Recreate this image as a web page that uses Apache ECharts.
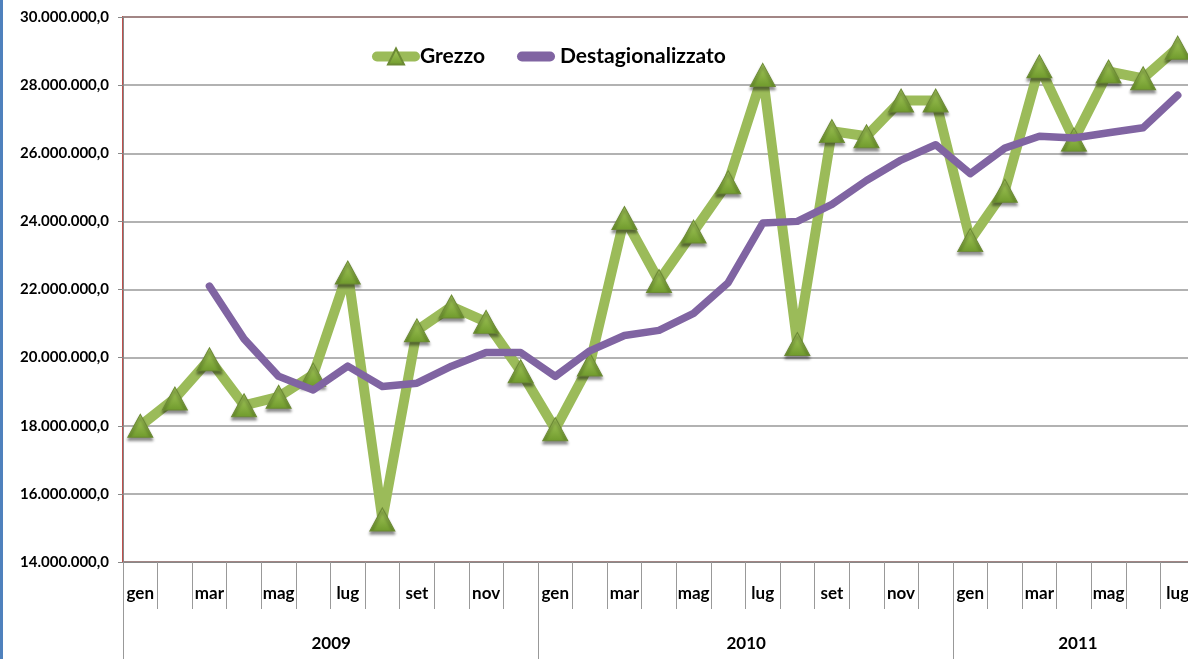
<!DOCTYPE html>
<html>
<head>
<meta charset="utf-8">
<script src="https://cdn.jsdelivr.net/npm/echarts@6/dist/echarts.min.js"></script>
<style>
  html, body { margin: 0; padding: 0; background: #fff; }
  #chart { width: 1188px; height: 659px; }
</style>
</head>
<body>
<div id="chart"></div>
<script>
// mesi gen 2009 - lug 2011
const months = [
  'gen','feb','mar','apr','mag','giu','lug','ago','set','ott','nov','dic',
  'gen','feb','mar','apr','mag','giu','lug','ago','set','ott','nov','dic',
  'gen','feb','mar','apr','mag','giu','lug'
]
const years = ['2009', '2010', '2011']
const yearStart = [0, 12, 24]
const yearLabelAt = [5, 17, 27]

const grezzo = [
  18.0, 18.8, 19.95, 18.6, 18.85, 19.5, 22.5, 15.25, 20.8, 21.5, 21.05, 19.6,
  17.9, 19.8, 24.1, 22.25, 23.7, 25.15, 28.3, 20.4, 26.65, 26.5, 27.55, 27.55,
  23.45, 24.9, 28.55, 26.4, 28.4, 28.2, 29.1
].map(v => v * 1e6)

const destag = [
  null, null, 22.1, 20.55, 19.45, 19.05, 19.75, 19.15, 19.25, 19.75, 20.15, 20.15,
  19.45, 20.2, 20.65, 20.8, 21.3, 22.2, 23.95, 24.0, 24.5, 25.2, 25.8, 26.25,
  25.4, 26.15, 26.5, 26.45, 26.6, 26.75, 27.7
].map(v => v == null ? null : v * 1e6)

const FONT = 'Lato, "Open Sans", sans-serif'

function fmtIt(v) {
  const s = Math.round(v).toString().replace(/\B(?=(\d{3})+(?!\d))/g, '.')
  return s + ',0'
}

const chart = echarts.init(document.getElementById('chart'))

// etichette anno: rich text per spostarle sul confine tra i mesi
const yearLabels = months.map((m, i) => {
  const k = yearLabelAt.indexOf(i)
  return k >= 0 ? years[k] : ''
})

const capsule = 'path://M5,0 L33,0 A5,5 0 0 1 33,10 L5,10 A5,5 0 0 1 5,0 Z'

chart.setOption({
  animation: false,
  textStyle: { fontFamily: FONT },
  graphic: [{
    type: 'rect', left: 0, top: 0, shape: { width: 3, height: 659 },
    style: { fill: '#4f81bd' }, silent: true
  }],
  grid: {
    left: 123, width: 1072, top: 17, bottom: 97,
    outerBoundsMode: 'none',
    show: true, borderColor: '#c0504d', borderWidth: 2, backgroundColor: '#fff'
  },
  legend: {
    left: 372, top: 46, padding: 0,
    itemWidth: 38, itemHeight: 20, itemGap: 32,
    lineStyle: { width: 10, cap: 'round' },
    textStyle: { fontFamily: FONT, fontWeight: 'bold', fontSize: 21, color: '#000' },
    data: [
      { name: 'Grezzo' },
      { name: 'Destagionalizzato', icon: capsule }
    ]
  },
  xAxis: [{
    type: 'category',
    data: months,
    boundaryGap: true,
    axisLine: { lineStyle: { color: '#888', width: 1 } },
    axisTick: { show: true, interval: 0, length: 47, lineStyle: { color: '#999' } },
    axisLabel: {
      interval: 1, margin: 23, color: '#000',
      fontFamily: FONT, fontWeight: 'bold', fontSize: 17
    },
    splitLine: { show: false }
  }, {
    type: 'category',
    data: yearLabels,
    position: 'bottom',
    boundaryGap: true,
    axisLine: { show: false },
    axisTick: {
      show: true, length: 100, lineStyle: { color: '#999' },
      interval: (i) => yearStart.indexOf(i) >= 0
    },
    axisLabel: {
      interval: 0, margin: 73, color: '#000',
      formatter: (v, i) => {
        if (!v) return ''
        return i === 27 ? '{c|' + v + '}' : '{s|' + v + '}'
      },
      rich: {
        s: { fontFamily: FONT, fontWeight: 'bold', fontSize: 17, color: '#000', padding: [0, 0, 0, 36] },
        c: { fontFamily: FONT, fontWeight: 'bold', fontSize: 17, color: '#000', padding: [0, 0, 0, 8] }
      }
    }
  }],
  yAxis: {
    type: 'value',
    min: 14000000, max: 30000000, interval: 2000000,
    axisLine: { show: true, lineStyle: { color: '#888' } },
    axisTick: { show: true, length: 5, lineStyle: { color: '#888' } },
    axisLabel: {
      formatter: fmtIt, margin: 14, color: '#000',
      fontFamily: FONT, fontWeight: 'bold', fontSize: 15
    },
    splitLine: { lineStyle: { color: '#999', width: 1.5 } }
  },
  series: [{
    name: 'Grezzo',
    type: 'line',
    data: grezzo,
    symbol: 'triangle',
    symbolSize: [25, 23],
    showAllSymbol: true,
    lineStyle: { color: '#9bbb59', width: 10, cap: 'round', join: 'round' },
    itemStyle: {
      color: new echarts.graphic.LinearGradient(0, 0, 0, 1, [
        { offset: 0, color: '#a9cc5f' },
        { offset: 1, color: '#6f9a2c' }
      ]),
      borderColor: '#6c8a35', borderWidth: 1,
      shadowColor: 'rgba(0,0,0,0.45)', shadowBlur: 3, shadowOffsetY: 3
    },
    z: 2
  }, {
    name: 'Destagionalizzato',
    type: 'line',
    data: destag,
    symbol: 'none',
    lineStyle: { color: '#8064a2', width: 7.5, cap: 'round', join: 'round' },
    itemStyle: { color: '#8064a2' },
    z: 3
  }]
})
</script>
</body>
</html>
